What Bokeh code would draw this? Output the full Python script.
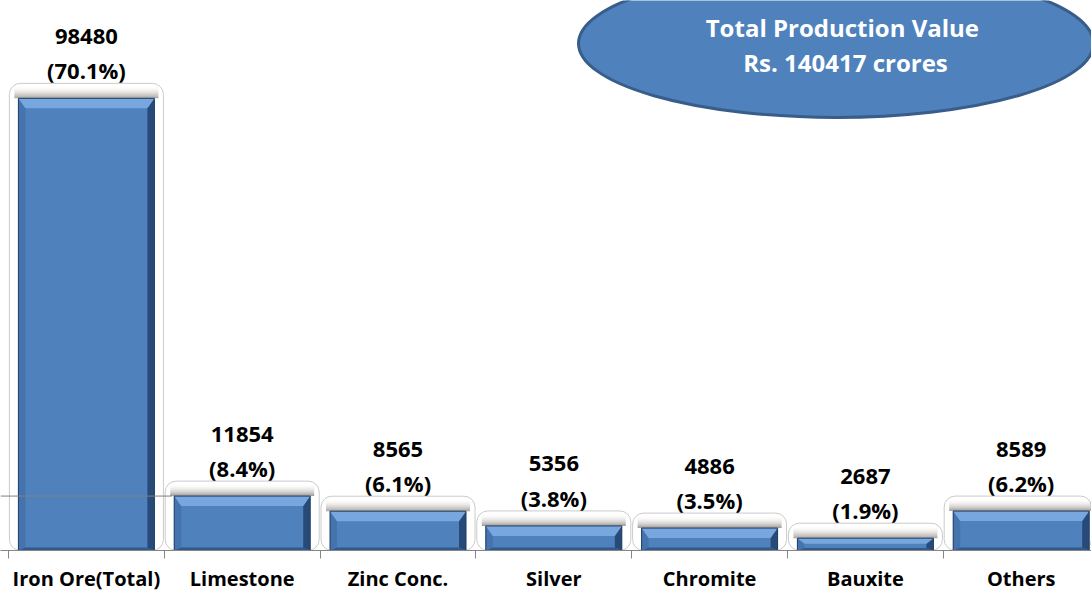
import numpy as np
from bokeh.plotting import figure
from bokeh.models import Range1d, FixedTicker
from bokeh.core.properties import value
from bokeh.embed import file_html
from bokeh.resources import INLINE

# ---------------- data ----------------
categories = ["Iron Ore(Total)", "Limestone", "Zinc Conc.", "Silver",
              "Chromite", "Bauxite", "Others"]
values = [98480, 11854, 8565, 5356, 4886, 2687, 8589]
percents = ["70.1%", "8.4%", "6.1%", "3.8%", "3.5%", "1.9%", "6.2%"]
total_title = "Total  Production Value"
total_value = "Rs. 140417 crores"

# ---------------- layout constants ----------------
W, H = 1091, 594
SLOT_PX = 155.8
LEFT_PAD_PX = 8
FRAME_H = 551
x_start = -LEFT_PAD_PX / SLOT_PX
x_end = x_start + W / SLOT_PX
y_end = 119780
px_x = 1.0 / SLOT_PX
px_y = y_end / FRAME_H
FONT = "Open Sans"

n = len(categories)
xs = np.arange(n) + 0.5
vals = np.array(values, dtype=float)


def sx(px):
    return x_start + px * px_x


def sy(py):
    return y_end - py * px_y


p = figure(width=W, height=H, x_range=Range1d(x_start, x_end), y_range=Range1d(0, y_end),
           output_backend="svg", toolbar_location=None, y_axis_location=None,
           min_border_left=0, min_border_right=0, min_border_top=0, min_border_bottom=0)
p.outline_line_color = None
p.xgrid.visible = False
p.ygrid.visible = False
p.background_fill_color = "white"

# ---------------- halo behind each bar ----------------
halo_w = (136 + 18) * px_x
p.vbar(x=xs, width=halo_w, bottom=0, top=vals + 15 * px_y,
       fill_color="white", line_color="#cacaca", line_width=1, border_radius=11)

half = 68 * px_x
left = xs - half
right = xs + half

# soft shadow gradient above bars
steps = 12
for k in range(steps):
    a = 0.6 * (1 - k / steps) ** 2
    p.quad(left=left - 4 * px_x, right=right + 4 * px_x,
           bottom=vals + k * 1.0 * px_y, top=vals + (k + 1) * 1.0 * px_y,
           fill_color="#6b6158", fill_alpha=a, line_color=None)

# ---------------- bevelled bars ----------------
p.quad(left=left, right=right, bottom=0, top=vals, fill_color="#4f81bd", line_color=None)

bx = 7 * px_x
top_x, top_y, rt_x, rt_y, bt_x, bt_y, lf_x, lf_y = [], [], [], [], [], [], [], []
for l, r, t in zip(left, right, vals):
    hpx = t / px_y
    by = min(10, hpx * 0.45) * px_y
    bb = min(3, hpx * 0.2) * px_y
    top_x.append([l, r, r - bx, l + bx]); top_y.append([t, t, t - by, t - by])
    rt_x.append([r, r, r - bx, r - bx]); rt_y.append([t, 0, bb, t - by])
    bt_x.append([l, r, r - bx, l + bx]); bt_y.append([0, 0, bb, bb])
    lf_x.append([l, l + bx, l + bx, l]); lf_y.append([t, t - by, bb, 0])

p.patches(xs=lf_x, ys=lf_y, fill_color="#4473ae", line_color=None)
p.patches(xs=bt_x, ys=bt_y, fill_color="#33598c", line_color=None)
p.patches(xs=rt_x, ys=rt_y, fill_color="#284a78", line_color=None)
p.patches(xs=top_x, ys=top_y, fill_color="#78a6de", line_color=None)
p.quad(left=left, right=right, bottom=0, top=vals, fill_color=None,
       line_color="#1f3d63", line_width=1)

# stray guide line across first slot
p.segment(x0=[x_start], x1=[xs[0] + 0.55], y0=[values[1]], y1=[values[1]],
          line_color="#808080", line_width=1)

# ---------------- value labels ----------------
p.text(x=xs, y=vals, text=["(" + s + ")" for s in percents], y_offset=-28,
       text_align="center", text_baseline="middle", text_font=value(FONT),
       text_font_style="bold", text_font_size="22px", text_color="black")
p.text(x=xs, y=vals, text=[str(v) for v in values], y_offset=-62,
       text_align="center", text_baseline="middle", text_font=value(FONT),
       text_font_style="bold", text_font_size="22px", text_color="black")

# ---------------- ellipse callout ----------------
p.ellipse(x=[sx(835.5)], y=[sy(43)], width=515, height=148, width_units="screen",
          height_units="screen", fill_color="#4f81bd", line_color="#385d8a", line_width=3)
p.text(x=[sx(845), sx(845)], y=[sy(27), sy(62)],
       text=[total_title, total_value], text_align="center", text_baseline="middle",
       text_font=value(FONT), text_font_style="bold", text_font_size="24px",
       text_color="white")

# ---------------- axis ----------------
ax = p.xaxis[0]
ax.ticker = FixedTicker(ticks=list(xs), minor_ticks=list(range(n + 1)))
ax.major_label_overrides = {float(x): c for x, c in zip(xs, categories)}
ax.axis_line_color = "#868686"
ax.minor_tick_line_color = "#868686"
ax.minor_tick_out = 8
ax.minor_tick_in = 0
ax.major_tick_out = 0
ax.major_tick_in = 0
ax.major_label_standoff = 6
ax.major_label_text_font = FONT
ax.major_label_text_font_style = "bold"
ax.major_label_text_font_size = "20px"
ax.major_label_text_color = "black"

open("out.html", "w").write(file_html(p, INLINE))
